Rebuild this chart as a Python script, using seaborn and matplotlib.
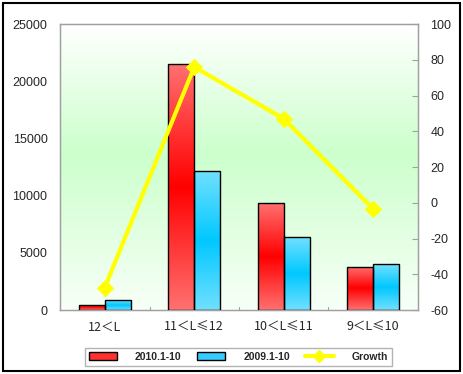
import numpy as np
import pandas as pd
import matplotlib
matplotlib.use("Agg")
import matplotlib.pyplot as plt
import seaborn as sns
from matplotlib.colors import to_rgb
from matplotlib.patches import Patch, Rectangle
from matplotlib.lines import Line2D

# data
categories = ['12＜L', '11＜L≤12', '10＜L≤11', '9＜L≤10']
series_names = ['2010.1-10', '2009.1-10']
sales_2010 = [440, 21480, 9330, 3790]
sales_2009 = [870, 12120, 6350, 3990]
growth = [-47.5, 76.0, 47.0, -3.5]

sns.set_style("white")
plt.rcParams['font.family'] = ['Liberation Sans', 'Noto Sans CJK SC', 'DejaVu Sans']
plt.rcParams['axes.unicode_minus'] = False

df = pd.DataFrame({
    'cat': categories * 2,
    'value': sales_2010 + sales_2009,
    'series': [series_names[0]] * 4 + [series_names[1]] * 4,
})

fig = plt.figure(figsize=(4.63, 3.74), dpi=100)
ax = fig.add_axes([0.1296, 0.1711, 0.7732, 0.7647])

sns.barplot(data=df, x='cat', y='value', hue='series', palette=['#ff0000', '#00ccff'],
            saturation=1, width=0.58, edgecolor='black', linewidth=1, legend=False,
            ax=ax, zorder=3)

ax.set_xlim(-0.5, 3.5)
ax.set_ylim(0, 25000)

# background gradient: white top -> green -> near white bottom
bg = np.array([[1.0, 1.0, 1.0], [0.80, 1.0, 0.80], [0.97, 1.0, 0.97]])
t = np.linspace(0, 1, 256)
pos = [0.0, 0.45, 1.0]
bg_img = np.stack([np.interp(t, pos, bg[:, k]) for k in range(3)], axis=-1)[:, None, :]
ax.imshow(bg_img, extent=(0, 1, 0, 1), transform=ax.transAxes, aspect='auto', zorder=0)


def grad(c_edge, c_mid):
    e, m = np.array(to_rgb(c_edge)), np.array(to_rgb(c_mid))
    tt = np.linspace(0, 1, 128)
    w = 1 - np.abs(tt - 0.5) * 2
    return (e[None, :] * (1 - w[:, None]) + m[None, :] * w[:, None])[:, None, :]


red_g = grad('#ff7070', '#ff0000')
blue_g = grad('#70e0ff', '#00c8ff')

# seaborn adds the bars hue level by hue level
bar_patches = [p for p in ax.patches if p.get_height() > 0]
for i, p in enumerate(bar_patches):
    x0, y0 = p.get_x(), p.get_y()
    x1, y1 = x0 + p.get_width(), y0 + p.get_height()
    img = red_g if i < len(categories) else blue_g
    im = ax.imshow(img, extent=(x0, x1, y0, y1), aspect='auto', zorder=2)
    im.set_clip_path(p)
    p.set_facecolor('none')

ax.set_xlim(-0.5, 3.5)
ax.set_ylim(0, 25000)
ax.set_yticks(np.arange(0, 25001, 5000))
ax.set_xlabel('')
ax.set_ylabel('')
ax.tick_params(axis='y', length=0, pad=9, labelsize=9)
ax.set_xticks(range(4))
ax.set_xticklabels(categories, family=['Noto Sans CJK SC', 'DejaVu Sans'], fontsize=9)
ax.tick_params(axis='x', length=0, pad=8)
# small separators between categories
for xs in [0.5, 1.5, 2.5]:
    ax.plot([xs, xs], [0, 250], color='#a0a0a0', lw=0.8, zorder=1)
for s in ax.spines.values():
    s.set_color('#a0a0a0')
    s.set_linewidth(1)

# growth line
ax2 = ax.twinx()
sns.lineplot(x=categories, y=growth, sort=False, color='#ffff00', lw=3, marker='D',
             markersize=8, markeredgecolor='#ffff00', ax=ax2, zorder=5)
ax2.set_ylim(-60, 100)
ax2.set_yticks(np.arange(-60, 101, 20))
ax2.tick_params(axis='y', direction='in', length=4, color='#a0a0a0', pad=9, labelsize=9)
for s in ax2.spines.values():
    s.set_color('#a0a0a0')

handles = [
    Patch(facecolor='#ff3030', edgecolor='black', label=series_names[0]),
    Patch(facecolor='#33ccff', edgecolor='black', label=series_names[1]),
    Line2D([0], [0], color='#ffff00', lw=3, marker='D', markersize=6, label='Growth'),
]
fig.legend(handles=handles, loc='center', bbox_to_anchor=(0.515, 0.0455), ncol=3,
           frameon=True, fancybox=False, edgecolor='#a0a0a0', prop={'size': 7.5, 'weight': 'bold'},
           handlelength=2.7, handleheight=0.8, handletextpad=1.7, columnspacing=1.5,
           borderpad=0.4)

fig.patches.append(Rectangle((0.006, 0.008), 0.988, 0.984, transform=fig.transFigure,
                             fill=False, edgecolor='black', lw=1.5))

fig.savefig('out.png', dpi=100)
